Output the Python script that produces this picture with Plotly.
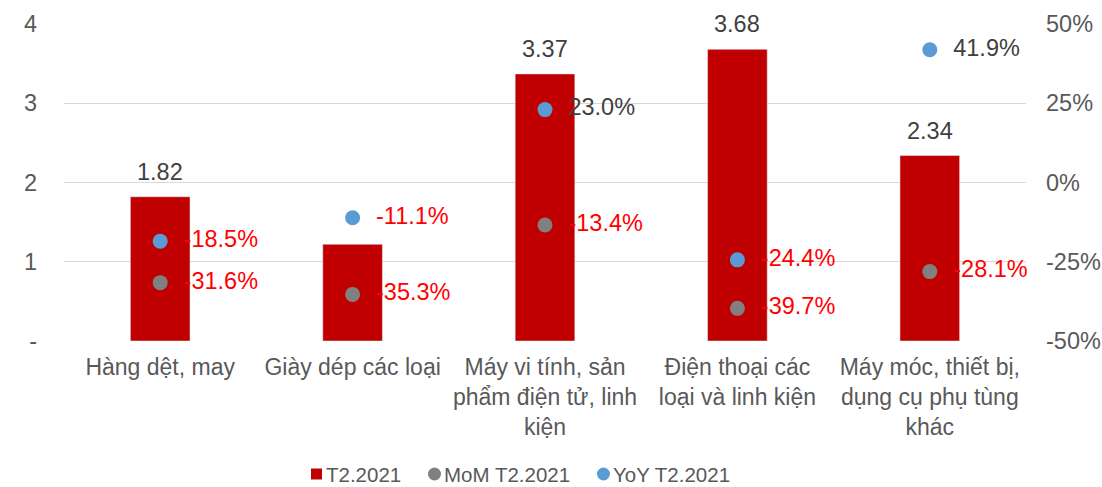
import plotly.graph_objects as go

categories = ["Hàng dệt, may", "Giày dép các loại", "Máy vi tính, sản<br>phẩm điện tử, linh<br>kiện",
              "Điện thoại các<br>loại và linh kiện", "Máy móc, thiết bị,<br>dụng cụ phụ tùng<br>khác"]
values_t2 = [1.82, 1.22, 3.37, 3.68, 2.34]
bar_label_shown = [True, False, True, True, True]
mom = [-31.6, -35.3, -13.4, -39.7, -28.1]
yoy = [-18.5, -11.1, 23.0, -24.4, 41.9]
series_names = ["T2.2021", "MoM T2.2021", "YoY T2.2021"]
series_colors = ["#C00000", "#808080", "#5B9BD5"]

FONT = "Liberation Sans, Arial, sans-serif"
PAD = "\u00a0\u00a0"
def lab_colors(vals):
    return ["#FF0000" if v < 0 else "#404040" for v in vals]

W, H = 1102, 487
ML, MR, MT, MB = 64, 76, 24, 146
PW, PH = W - ML - MR, H - MT - MB
def px_x(px):
    return (px - ML) / PW
def px_y(py):
    return (H - MB - py) / PH

fig = go.Figure()
fig.add_trace(go.Bar(
    x=categories, y=values_t2, name=series_names[0], marker_color=series_colors[0], width=0.31,
))
fig.add_trace(go.Scatter(
    x=categories, y=mom, name=series_names[1], mode="markers+text", yaxis="y2",
    marker=dict(color=series_colors[1], size=15),
    text=[f"{PAD}{v:.1f}%" for v in mom], textposition="middle right",
    textfont=dict(size=23.5, color=lab_colors(mom), family=FONT), cliponaxis=False,
))
fig.add_trace(go.Scatter(
    x=categories, y=yoy, name=series_names[2], mode="markers+text", yaxis="y2",
    marker=dict(color=series_colors[2], size=15),
    text=[f"{PAD}{v:.1f}%" for v in yoy], textposition="middle right",
    textfont=dict(size=23.5, color=lab_colors(yoy), family=FONT), cliponaxis=False,
))

for c, v, s in zip(categories, values_t2, bar_label_shown):
    if s:
        fig.add_annotation(x=c, y=v, xref="x", yref="y", text=f"{v:.2f}", showarrow=False,
                           yanchor="bottom", yshift=10,
                           font=dict(size=23.5, color="#404040", family=FONT))

# manual legend (below the plot) so it does not push the margins
leg_y = 474
sym = [("rect", 311, 322, 11), ("circle", 428, 441, 13), ("circle", 597, 610, 13)]
text_x = [324, 442, 611]
for (kind, x0, x1, h), col, name, tx in zip(sym, series_colors, series_names, text_x):
    fig.add_shape(type=kind, xref="paper", yref="paper",
                  x0=px_x(x0), x1=px_x(x1), y0=px_y(leg_y + h / 2), y1=px_y(leg_y - h / 2),
                  fillcolor=col, line=dict(width=0))
    fig.add_annotation(xref="paper", yref="paper", x=px_x(tx), y=px_y(leg_y), text=name,
                       showarrow=False, xanchor="left", yanchor="middle",
                       font=dict(size=20.5, color="#595959", family=FONT))

fig.update_layout(
    width=W, height=H,
    margin=dict(l=ML, r=MR, t=MT, b=MB),
    paper_bgcolor="white", plot_bgcolor="white",
    font=dict(family=FONT, size=23.5, color="#595959"),
    xaxis=dict(showgrid=False, showline=False, ticks="", automargin=False,
               tickfont=dict(size=23, color="#595959"), ticklabelstandoff=10),
    yaxis=dict(range=[0, 4], tickvals=[0, 1, 2, 3, 4], ticktext=["-", "1", "2", "3", "4"],
               showgrid=True, gridcolor="#D9D9D9", gridwidth=1.3, zeroline=False, automargin=False,
               tickfont=dict(size=23.5, color="#595959"), ticklabelstandoff=26),
    yaxis2=dict(range=[-50, 50], tickvals=[-50, -25, 0, 25, 50],
                ticktext=["-50%", "-25%", "0%", "25%", "50%"], overlaying="y", side="right",
                showgrid=False, zeroline=False, automargin=False,
                tickfont=dict(size=23.5, color="#595959"), ticklabelstandoff=19),
    showlegend=False,
)
fig.write_html("out.html", config={"displayModeBar": False},
               post_script="document.body.style.margin='0';")
